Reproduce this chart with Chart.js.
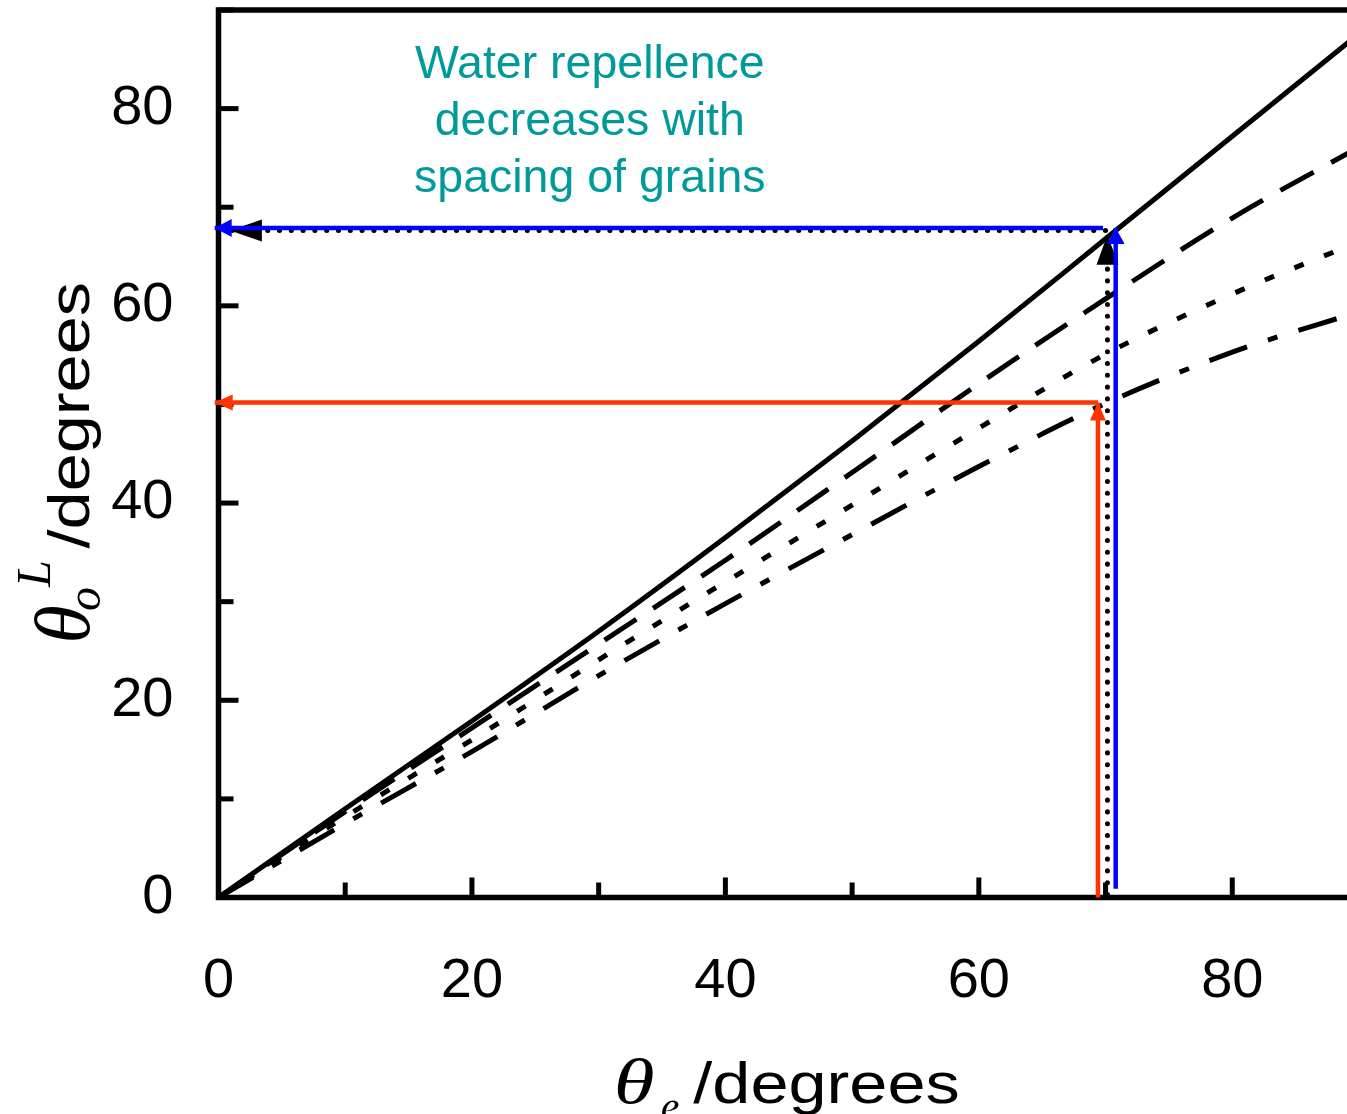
<!DOCTYPE html>
<html>
<head>
<meta charset="utf-8">
<style>
  html, body { margin: 0; padding: 0; background: #fff; overflow: hidden; }
  canvas { display: block; }
</style>
<script src="https://cdn.jsdelivr.net/npm/chart.js@4.4.1/dist/chart.umd.min.js"></script>
</head>
<body>
<canvas id="chart" width="1362" height="1114"></canvas>
<script>
// theta_e values and the four curves
const thetaE = [0, 10, 20, 30, 40, 50, 60, 70, 80, 90];
const solidCurve = [0, 9.0, 17.9, 27.0, 36.5, 46.3, 56.4, 66.8, 77.2, 87.6];
const dashedCurve = [0, 8.7, 17.2, 25.7, 34.2, 43.1, 52.1, 60.7, 68.9, 76.1];
const shortDashCurve = [0, 8.2, 16.0, 24.1, 32.0, 39.8, 47.6, 55.1, 61.2, 66.5];
const dashDotCurve = [0, 7.5, 14.8, 22.5, 29.8, 36.8, 43.7, 50.1, 55.3, 59.4];

// arrows (start -> tip)
const redUpX = [69.4, 69.4],     redUpY = [0, 50.2];
const redLeftX = [69.4, -0.3],   redLeftY = [50.2, 50.2];
const blueUpX = [70.8, 70.8],    blueUpY = [0.9, 67.9];
const blueLeftX = [69.8, -0.3],  blueLeftY = [67.9, 67.9];
const dotUpX = [70.15, 70.15],   dotUpY = [0.3, 67.2];
const dotLeftX = [70.0, 0.9],    dotLeftY = [67.65, 67.65];

const annotationLines = ['Water repellence', 'decreases with', 'spacing of grains'];

const pts = (xs, ys) => xs.map((x, i) => ({ x: x, y: ys[i] }));

const RED = '#ff3300';
const BLUE = '#0000ff';
const TEAL = '#009a9a';

function curve(data, dash) {
    return {
        data: pts(thetaE, data),
        borderColor: '#000',
        borderWidth: 5,
        borderDash: dash,
        cubicInterpolationMode: 'monotone',
        pointRadius: 0,
        order: 10
    };
}

function arrow(xs, ys, color, head, order, dotted) {
    return {
        data: pts(xs, ys),
        borderColor: color,
        borderWidth: dotted ? 5 : 4.5,
        borderDash: dotted ? [0.1, 11.7] : [],
        borderCapStyle: dotted ? 'round' : 'butt',
        pointRadius: 0,
        tension: 0,
        clip: false,
        head: head,
        order: order
    };
}

// draw a filled arrow head at the last point of flagged datasets
const arrowHeads = {
    id: 'arrowHeads',
    afterDatasetDraw(chart, args) {
        const ds = chart.data.datasets[args.index];
        if (!ds.head) return;
        const els = args.meta.data;
        const a = els[els.length - 2], b = els[els.length - 1];
        const ang = Math.atan2(b.y - a.y, b.x - a.x);
        const ctx = chart.ctx;
        ctx.save();
        ctx.translate(b.x, b.y);
        ctx.rotate(ang);
        ctx.fillStyle = ds.borderColor;
        ctx.beginPath();
        ctx.moveTo(0, 0);
        ctx.lineTo(-ds.head[0], -ds.head[1]);
        ctx.lineTo(-ds.head[0], ds.head[1]);
        ctx.closePath();
        ctx.fill();
        ctx.restore();
    }
};

// frame + inward ticks
const frame = {
    id: 'frame',
    beforeDatasetsDraw(chart) {
        const { ctx, chartArea: ca, scales } = chart;
        ctx.save();
        ctx.strokeStyle = '#000';
        ctx.lineWidth = 5.5;
        ctx.strokeRect(ca.left, ca.top, ca.right - ca.left, ca.bottom - ca.top);
        ctx.lineWidth = 5;
        scales.x.ticks.forEach(t => {
            const px = scales.x.getPixelForValue(t.value);
            const len = t.value % 20 === 0 ? 20 : 15;
            ctx.beginPath();
            ctx.moveTo(px, ca.bottom);
            ctx.lineTo(px, ca.bottom - len);
            ctx.stroke();
        });
        scales.y.ticks.forEach(t => {
            const py = scales.y.getPixelForValue(t.value);
            const len = t.value % 20 === 0 ? 20 : 15;
            ctx.beginPath();
            ctx.moveTo(ca.left, py);
            ctx.lineTo(ca.left + len, py);
            ctx.stroke();
        });
        ctx.restore();
    }
};

function partsWidth(ctx, parts) {
    let w = 0;
    parts.forEach(p => {
        ctx.font = p.font;
        w += (p.gap || 0) + ctx.measureText(p.text).width * (p.sx || 1);
    });
    return w;
}

function drawParts(ctx, parts) {
    let x = 0;
    parts.forEach(p => {
        ctx.font = p.font;
        x += p.gap || 0;
        ctx.save();
        ctx.translate(x, p.dy || 0);
        ctx.scale(p.sx || 1, 1);
        ctx.fillText(p.text, 0, 0);
        ctx.restore();
        x += ctx.measureText(p.text).width * (p.sx || 1);
    });
}

const SERIF_I = (s) => 'italic ' + s + 'px "Liberation Serif", "Times New Roman", serif';
const SANS = (s) => s + 'px "Liberation Sans", Arial, sans-serif';

const titles = {
    id: 'titles',
    afterDraw(chart) {
        const { ctx, chartArea: ca, scales } = chart;
        ctx.save();
        ctx.fillStyle = '#000';
        ctx.textBaseline = 'alphabetic';
        ctx.textAlign = 'left';

        // x title: theta_e /degrees
        const xParts = [
            { text: '\u03b8', font: SERIF_I(64), sx: 1.3 },
            { text: 'e', font: SERIF_I(42), dy: 17, gap: 6 },
            { text: '/degrees', font: SANS(58), gap: 14, sx: 1.18 }
        ];
        const xw = partsWidth(ctx, xParts);
        ctx.save();
        ctx.translate((ca.left + ca.right) / 2 - 2 - xw / 2, ca.bottom + 205);
        drawParts(ctx, xParts);
        ctx.restore();

        // y title: theta_o^L /degrees (rotated)
        const yParts = [
            { text: '\u03b8', font: SERIF_I(78) },
            { text: 'o', font: SERIF_I(48), dy: 11, gap: -6 },
            { text: 'L', font: SERIF_I(48), dy: -39, gap: 0 },
            { text: '/degrees', font: SANS(58), gap: 12, sx: 1.18 }
        ];
        const yw = partsWidth(ctx, yParts);
        ctx.save();
        ctx.translate(ca.left - 130, (ca.top + ca.bottom) / 2 + 9 + yw / 2);
        ctx.rotate(-Math.PI / 2);
        drawParts(ctx, yParts);
        ctx.restore();

        // annotation
        ctx.fillStyle = TEAL;
        ctx.textAlign = 'center';
        ctx.font = SANS(46.5);
        const ax = scales.x.getPixelForValue(29.3);
        const ay = scales.y.getPixelForValue(83.1);
        annotationLines.forEach((s, i) => ctx.fillText(s, ax, ay + i * 57));
        ctx.restore();
    }
};

const tickFont = { family: '"Liberation Sans", Arial, sans-serif', size: 56 };

new Chart(document.getElementById('chart'), {
    type: 'line',
    data: {
        datasets: [
            arrow(redLeftX, redLeftY, RED, [18, 8], 1),
            arrow(redUpX, redUpY, RED, [18, 8], 1),
            arrow(blueLeftX, blueLeftY, BLUE, [17, 9], 2),
            arrow(blueUpX, blueUpY, BLUE, [16, 9], 2),
            arrow(dotLeftX, dotLeftY, '#000', [32, 11], 3, true),
            arrow(dotUpX, dotUpY, '#000', [30, 11], 3, true),
            curve(solidCurve, []),
            curve(dashedCurve, [38, 20]),
            curve(shortDashCurve, [10, 22]),
            curve(dashDotCurve, [40, 22, 10, 22])
        ]
    },
    options: {
        responsive: false,
        animation: false,
        events: [],
        layout: { padding: { top: 10, right: 3, left: 0, bottom: 0 } },
        plugins: { legend: { display: false }, tooltip: { enabled: false } },
        scales: {
            x: {
                type: 'linear',
                min: 0,
                max: 90,
                grid: { display: false, drawTicks: false },
                border: { display: false },
                ticks: {
                    stepSize: 10,
                    autoSkip: false,
                    maxRotation: 0,
                    padding: 50,
                    color: '#000',
                    font: tickFont,
                    callback: v => (v % 20 === 0 && v < 90 ? String(v) : '')
                },
                afterFit: s => {
                    s.height = 216.5;
                    s.paddingLeft = 0;
                    s.paddingRight = 0;
                }
            },
            y: {
                type: 'linear',
                min: 0,
                max: 90,
                grid: { display: false, drawTicks: false },
                border: { display: false },
                ticks: {
                    stepSize: 10,
                    autoSkip: false,
                    padding: 45,
                    color: '#000',
                    font: tickFont,
                    callback: v => (v % 20 === 0 && v < 90 ? String(v) : '')
                },
                afterFit: s => {
                    s.width = 218.5;
                    s.paddingTop = 0;
                    s.paddingBottom = 0;
                }
            }
        }
    },
    plugins: [frame, arrowHeads, titles]
});
</script>
</body>
</html>
